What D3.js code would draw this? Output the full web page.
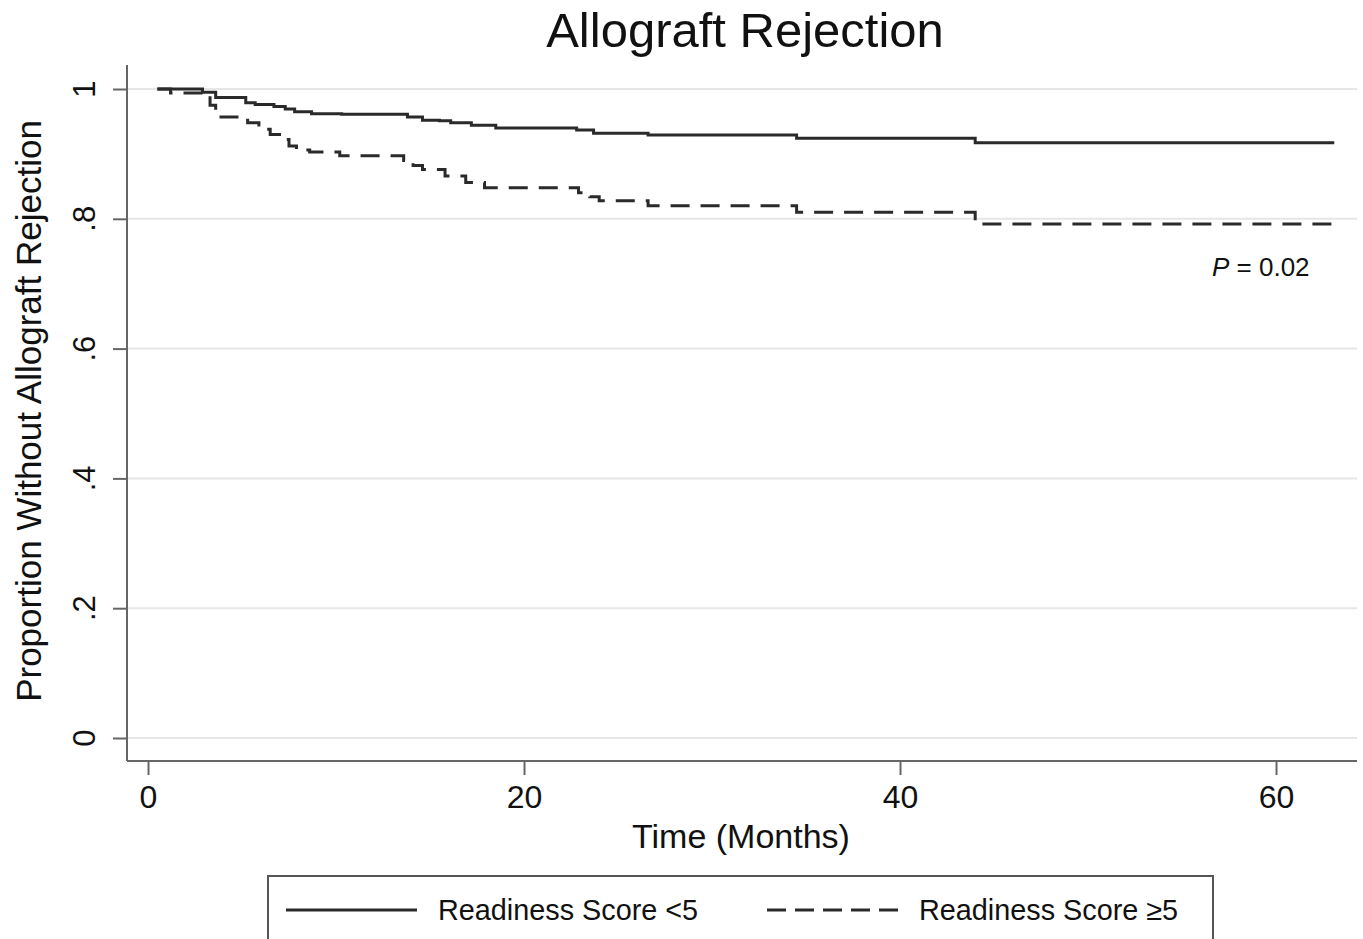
<!DOCTYPE html>
<html>
<head>
    <title>Allograft Rejection</title>
    <script src="https://d3js.org/d3.v7.min.js"></script>
    <style>
        body { margin: 0; background: #fff; }
        svg { display: block; }
        text { font-family: "Liberation Sans", Arial, sans-serif; fill: #111; }
        .grid line { stroke: #e6e6e6; stroke-width: 2px; }
        .axis path, .axis line { stroke: #666; stroke-width: 2px; }
    </style>
</head>
<body>
    <svg></svg>
    <script>
        // Curvas Kaplan-Meier (meses, proporción)
        const lowTimes = [0.5, 2.9, 3.6, 5.2, 5.7, 6.7, 7.3, 7.8, 8.7, 10.3, 13.8, 14.6, 15.5, 16.1, 17.2, 18.5, 22.8, 23.7, 26.6, 34.5, 44.0, 63.1];
        const lowSurv  = [1.0, 0.995, 0.987, 0.979, 0.976, 0.973, 0.969, 0.965, 0.962, 0.961, 0.957, 0.952, 0.951, 0.948, 0.944, 0.940, 0.937, 0.932, 0.929, 0.924, 0.917, 0.917];

        const highTimes = [0.5, 1.2, 2.9, 3.3, 3.6, 5.3, 5.9, 6.5, 7.2, 7.5, 7.9, 8.6, 10.2, 13.6, 14.1, 14.6, 15.8, 16.9, 17.9, 22.9, 23.5, 24.0, 26.6, 34.5, 44.0, 63.1];
        const highSurv  = [1.0, 0.994, 0.990, 0.975, 0.957, 0.948, 0.938, 0.930, 0.922, 0.912, 0.906, 0.903, 0.897, 0.890, 0.882, 0.876, 0.866, 0.856, 0.848, 0.840, 0.834, 0.828, 0.820, 0.810, 0.792, 0.792];

        const xTicks = [0, 20, 40, 60];
        const yTicks = [0, 0.2, 0.4, 0.6, 0.8, 1];
        const yTickLabels = ["0", ".2", ".4", ".6", ".8", "1"];
        const legendLabels = ["Readiness Score <5", "Readiness Score \u22655"];

        const width = 1363;
        const height = 939;

        const svg = d3.select("svg")
            .attr("width", width)
            .attr("height", height);

        // Escalas
        const x = d3.scaleLinear().domain([0, 60]).range([148, 1276]);
        const y = d3.scaleLinear().domain([0, 1]).range([738, 89]);
        const plotLeft = 127, plotRight = 1357, plotTop = 65, plotBottom = 761;

        // Rejilla
        svg.append("g")
            .attr("class", "grid")
            .selectAll("line")
            .data(yTicks)
            .join("line")
            .attr("x1", plotLeft)
            .attr("x2", plotRight)
            .attr("y1", d => y(d))
            .attr("y2", d => y(d));

        // Ejes
        const yAxis = svg.append("g")
            .attr("class", "axis")
            .attr("transform", `translate(${plotLeft},0)`)
            .call(d3.axisLeft(y).tickValues(yTicks).tickSize(14).tickSizeOuter(0).tickFormat((d, i) => yTickLabels[i]));
        yAxis.select(".domain").attr("d", `M0,${plotTop}V${plotBottom}`);
        yAxis.selectAll("text").remove();
        svg.append("g")
            .selectAll("text")
            .data(yTicks)
            .join("text")
            .attr("transform", d => `translate(95,${y(d)}) rotate(-90)`)
            .attr("text-anchor", "middle")
            .style("font-size", "31px")
            .text((d, i) => yTickLabels[i]);

        const xAxis = svg.append("g")
            .attr("class", "axis")
            .attr("transform", `translate(0,${plotBottom})`)
            .call(d3.axisBottom(x).tickValues(xTicks).tickSize(14).tickSizeOuter(0).tickFormat(d3.format("d")));
        xAxis.select(".domain").attr("d", `M${plotLeft},0H${plotRight}`);
        xAxis.selectAll("text")
            .attr("y", 47)
            .attr("dy", null)
            .style("font-size", "32px")
            .style("fill", "#111");

        // Títulos
        svg.append("text")
            .attr("x", 745)
            .attr("y", 47)
            .attr("text-anchor", "middle")
            .style("font-size", "49px")
            .text("Allograft Rejection");

        svg.append("text")
            .attr("x", 741)
            .attr("y", 848)
            .attr("text-anchor", "middle")
            .style("font-size", "34px")
            .text("Time (Months)");

        svg.append("text")
            .attr("transform", "translate(41,411) rotate(-90)")
            .attr("text-anchor", "middle")
            .style("font-size", "35px")
            .text("Proportion Without Allograft Rejection");

        // Curvas
        const line = d3.line()
            .x(d => x(d[0]))
            .y(d => y(d[1]))
            .curve(d3.curveStepAfter);

        const lowData = lowTimes.map((t, i) => [t, lowSurv[i]]);
        const highData = highTimes.map((t, i) => [t, highSurv[i]]);

        svg.append("path")
            .datum(lowData)
            .attr("d", line)
            .attr("fill", "none")
            .attr("stroke", "#2a2a2a")
            .attr("stroke-width", 3);

        svg.append("path")
            .datum(highData)
            .attr("d", line)
            .attr("fill", "none")
            .attr("stroke", "#2a2a2a")
            .attr("stroke-width", 3)
            .attr("stroke-dasharray", "19,11");

        // Valor P
        const pText = svg.append("text")
            .attr("x", 1212)
            .attr("y", 276)
            .style("font-size", "26px");
        pText.append("tspan").style("font-style", "italic").text("P");
        pText.append("tspan").text(" = 0.02");

        // Leyenda
        svg.append("rect")
            .attr("x", 268)
            .attr("y", 876)
            .attr("width", 945)
            .attr("height", 90)
            .attr("fill", "#fff")
            .attr("stroke", "#555")
            .attr("stroke-width", 2);

        const legendItems = [
            { x: 286, dash: null, label: legendLabels[0] },
            { x: 767, dash: "19,9", label: legendLabels[1] }
        ];
        const legend = svg.append("g")
            .selectAll("g")
            .data(legendItems)
            .join("g")
            .attr("transform", d => `translate(${d.x},910)`);
        legend.append("line")
            .attr("x1", 0)
            .attr("x2", 131)
            .attr("stroke", "#2a2a2a")
            .attr("stroke-width", 3)
            .attr("stroke-dasharray", d => d.dash);
        legend.append("text")
            .attr("x", 152)
            .attr("y", 10)
            .style("font-size", "28.8px")
            .text(d => d.label);
    </script>
</body>
</html>
